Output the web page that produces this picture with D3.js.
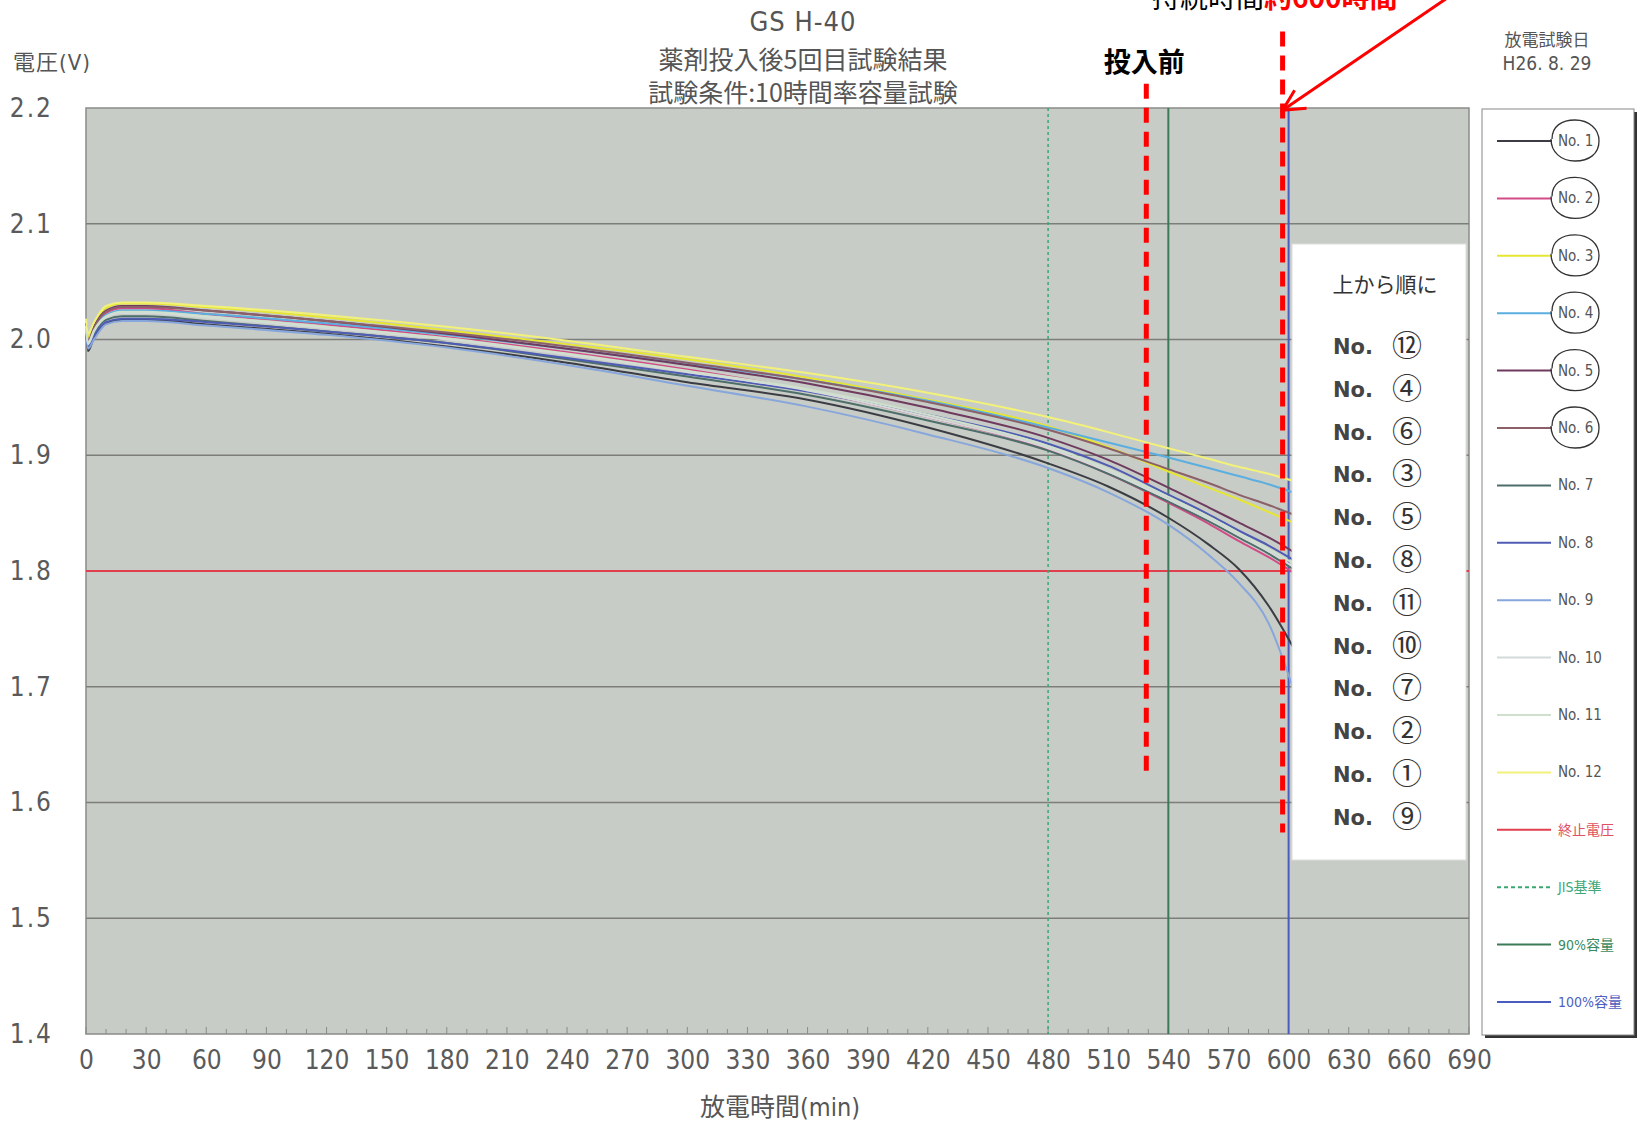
<!DOCTYPE html>
<html><head><meta charset="utf-8">
<script src="https://cdn.jsdelivr.net/npm/d3@7"></script>
<style>
body{margin:0;background:#fff;}
svg{display:block;}
text{font-family:"Liberation Sans Narrow","DejaVu Sans Condensed","Noto Sans CJK JP",sans-serif;}
.cjk{font-family:"Noto Sans CJK JP",sans-serif;}
</style></head><body>
<svg id="chart" width="1642" height="1121"></svg>
<script>
// ---------- data ----------
const times = [0,1,4,10,18,30,60,120,180,240,300,360,420,480,510,540,560,575,590,602];
const no1  = [2.010,1.990,2.002,2.014,2.017,2.017,2.013,2.005,1.994,1.980,1.963,1.948,1.924,1.893,1.873,1.846,1.823,1.802,1.770,1.735];
const no2  = [2.013,1.997,2.009,2.023,2.027,2.027,2.022,2.013,2.002,1.989,1.974,1.956,1.933,1.905,1.884,1.859,1.841,1.826,1.812,1.799];
const no3  = [2.016,2.002,2.013,2.027,2.031,2.031,2.028,2.019,2.008,1.996,1.983,1.967,1.948,1.925,1.907,1.886,1.872,1.862,1.851,1.842];
const no4  = [2.012,1.996,2.008,2.021,2.025,2.025,2.022,2.014,2.004,1.992,1.979,1.965,1.947,1.924,1.911,1.898,1.889,1.882,1.875,1.868];
const no5  = [2.014,1.998,2.011,2.025,2.029,2.029,2.025,2.016,2.005,1.992,1.978,1.962,1.941,1.915,1.896,1.872,1.855,1.842,1.829,1.817];
const no6  = [2.014,1.998,2.010,2.024,2.028,2.028,2.025,2.016,2.006,1.994,1.980,1.965,1.946,1.922,1.906,1.888,1.876,1.866,1.857,1.849];
const no7  = [2.010,1.994,2.005,2.017,2.020,2.020,2.016,2.007,1.997,1.983,1.968,1.952,1.930,1.904,1.884,1.860,1.843,1.829,1.815,1.802];
const no8  = [2.008,1.993,2.003,2.015,2.018,2.018,2.015,2.007,1.997,1.984,1.970,1.955,1.935,1.910,1.891,1.866,1.849,1.835,1.822,1.810];
const no9  = [2.008,1.992,2.000,2.013,2.016,2.016,2.012,2.004,1.993,1.978,1.960,1.942,1.918,1.889,1.868,1.840,1.814,1.790,1.755,1.700];
const no10 = [2.011,1.996,2.007,2.019,2.023,2.023,2.019,2.010,2.000,1.987,1.972,1.956,1.933,1.906,1.886,1.862,1.845,1.831,1.817,1.804];
const no11 = [2.012,1.997,2.008,2.020,2.024,2.024,2.020,2.011,2.001,1.988,1.973,1.957,1.935,1.908,1.888,1.864,1.847,1.833,1.819,1.807];
const no12 = [2.018,2.005,2.015,2.029,2.032,2.032,2.029,2.021,2.011,1.999,1.985,1.971,1.954,1.933,1.920,1.906,1.897,1.890,1.884,1.878];

const seriesNames  = ["No. 1","No. 2","No. 3","No. 4","No. 5","No. 6","No. 7","No. 8","No. 9","No. 10","No. 11","No. 12"];
const seriesValues = [no1,no2,no3,no4,no5,no6,no7,no8,no9,no10,no11,no12];
const seriesColors = ["#3c3c44","#d24a86","#e6e632","#5aaee0","#6e3a5e","#8c6068","#4e6e6a","#4f5cb4","#86a6dc","#d4dada","#cfe0cc","#f2f27a"];

const refNames  = ["終止電圧","JIS基準","90%容量","100%容量"];
const refColors = ["#e0404e","#38a870","#3d7a58","#4a5cc0"];
const refTextColors = ["#e05060","#40a878","#3a8a60","#5060c0"];
const cutoffVoltage = 1.8;
const jisTime = 480, cap90Time = 540, cap100Time = 600;

const xTicks = [0,30,60,90,120,150,180,210,240,270,300,330,360,390,420,450,480,510,540,570,600,630,660,690];
const yTicks = [1.4,1.5,1.6,1.7,1.8,1.9,2.0,2.1,2.2];

const titleLines = ["GS H-40","薬剤投入後5回目試験結果","試験条件:10時間率容量試験"];
const orderLabel = "上から順に";
const orderList = ["⑫","④","⑥","③","⑤","⑧","⑪","⑩","⑦","②","①","⑨"];
const beforeLabel = "投入前", beforeTime = 529;
const afterTime = 597;

// ---------- layout ----------
const svg = d3.select("#chart");
const L = 86, R = 1469, T = 108, B = 1034;
const x = d3.scaleLinear().domain([0,690]).range([L,R]);
const y = d3.scaleLinear().domain([1.4,2.2]).range([B,T]);

// plot background
svg.append("rect").attr("x",L).attr("y",T).attr("width",R-L).attr("height",B-T)
  .attr("fill","#c8ccc6").attr("stroke","#8a8c88").attr("stroke-width",1.5);

// horizontal grid
svg.append("g").selectAll("line").data(yTicks.slice(1,-1)).join("line")
  .attr("x1",L).attr("x2",R).attr("y1",d=>y(d)).attr("y2",d=>y(d))
  .attr("stroke","#7c7e7a").attr("stroke-width",1.6);

// minor ticks at bottom
const minor = d3.range(0,691,10);
svg.append("g").selectAll("line").data(minor).join("line")
  .attr("x1",d=>x(d)).attr("x2",d=>x(d)).attr("y1",B).attr("y2",d=> d%30===0? B-7 : B-5)
  .attr("stroke","#8a8c88").attr("stroke-width",1);

// cutoff voltage line
svg.append("line").attr("x1",L).attr("x2",R).attr("y1",y(cutoffVoltage)).attr("y2",y(cutoffVoltage))
  .attr("stroke",refColors[0]).attr("stroke-width",2);

// vertical reference lines
svg.append("line").attr("x1",x(jisTime)).attr("x2",x(jisTime)).attr("y1",T).attr("y2",B)
  .attr("stroke",refColors[1]).attr("stroke-width",1.5).attr("stroke-dasharray","3,3");
svg.append("line").attr("x1",x(cap90Time)).attr("x2",x(cap90Time)).attr("y1",T).attr("y2",B)
  .attr("stroke",refColors[2]).attr("stroke-width",2);
svg.append("line").attr("x1",x(cap100Time)).attr("x2",x(cap100Time)).attr("y1",T).attr("y2",B)
  .attr("stroke",refColors[3]).attr("stroke-width",2);

// series
const line = d3.line().x((d,i)=>x(times[i])).y(d=>y(d)).curve(d3.curveMonotoneX);
svg.append("g").selectAll("path").data(seriesValues).join("path")
  .attr("d",d=>line(d)).attr("fill","none")
  .attr("stroke",(d,i)=>seriesColors[i]).attr("stroke-width",2);

// axes
const xAxis = svg.append("g").attr("transform",`translate(0,${B})`)
  .call(d3.axisBottom(x).tickValues(xTicks).tickSize(0).tickPadding(17));
xAxis.select(".domain").remove();
xAxis.selectAll("text").attr("font-size",26).attr("fill","#5a5a5a")
  .style("font-family",'"Liberation Sans Narrow","DejaVu Sans Condensed",sans-serif');

const yAxis = svg.append("g").attr("transform",`translate(${L},0)`)
  .call(d3.axisLeft(y).tickValues(yTicks).tickSize(0).tickPadding(33).tickFormat(d3.format(".1f")));
yAxis.select(".domain").remove();
yAxis.selectAll("text").attr("font-size",26).attr("fill","#5a5a5a").attr("letter-spacing",2)
  .style("font-family",'"Liberation Sans Narrow","DejaVu Sans Condensed",sans-serif');

// axis titles
svg.append("text").attr("x",13).attr("y",70).attr("font-size",22).attr("letter-spacing",1).attr("fill","#555").text("電圧(V)");
svg.append("text").attr("x",780).attr("y",1116).attr("text-anchor","middle").attr("font-size",25).attr("fill","#555").text("放電時間(min)");

// titles
svg.append("text").attr("x",803).attr("y",31).attr("text-anchor","middle").attr("font-size",27).attr("fill","#555").attr("letter-spacing",1).text(titleLines[0]);
svg.append("text").attr("x",803).attr("y",69).attr("text-anchor","middle").attr("font-size",25).attr("fill","#555").attr("class","cjk").text(titleLines[1]);
svg.append("text").attr("x",803).attr("y",102).attr("text-anchor","middle").attr("font-size",25).attr("fill","#555").attr("class","cjk").text(titleLines[2]);

// date
svg.append("text").attr("x",1547).attr("y",46).attr("text-anchor","middle").attr("font-size",17).attr("fill","#555").attr("class","cjk").text("放電試験日");
svg.append("text").attr("x",1547).attr("y",70).attr("text-anchor","middle").attr("font-size",19).attr("fill","#555").text("H26. 8. 29");

// legend box
const lgX = 1482, lgY = 109, lgW = 152, lgH = 926;
svg.append("rect").attr("x",lgX+3).attr("y",lgY+3).attr("width",lgW).attr("height",lgH).attr("fill","#333");
svg.append("rect").attr("x",lgX).attr("y",lgY).attr("width",lgW).attr("height",lgH).attr("fill","#fff").attr("stroke","#888").attr("stroke-width",1);
const legendNames = seriesNames.concat(refNames);
const legendColors = seriesColors.concat(refColors);
const legendTextColors = seriesNames.map(()=> "#555").concat(refTextColors);
const lgStep = 57.4, lg0 = 141;
const lg = svg.append("g").selectAll("g").data(legendNames).join("g")
  .attr("transform",(d,i)=>`translate(0,${lg0+i*lgStep})`);
lg.append("line").attr("x1",1497).attr("x2",(d,i)=> i<6 ? 1552 : 1551).attr("y1",0).attr("y2",0)
  .attr("stroke",(d,i)=>legendColors[i]).attr("stroke-width",2)
  .attr("stroke-dasharray",(d,i)=> legendNames[i]==="JIS基準" ? "4,3" : null);
lg.append("text").attr("x",1558).attr("y",5).attr("font-size",(d,i)=> i<12?15:14)
  .attr("fill",(d,i)=>legendTextColors[i]).text(d=>d);
// hand-drawn circles around No.1-6
lg.filter((d,i)=>i<6).append("path")
  .attr("d","M1552,-2 C1552,-15 1562,-21 1575,-21 C1589,-21 1599,-12 1599,0 C1599,13 1589,20 1575,20 C1561,20 1551,11 1551,-2")
  .attr("fill","none").attr("stroke","#333").attr("stroke-width",1.3);

// order box
svg.append("rect").attr("x",1292).attr("y",244).attr("width",174).attr("height",616).attr("fill","#fff").attr("stroke","#ddd");
svg.append("text").attr("x",1385).attr("y",292).attr("text-anchor","middle").attr("font-size",21).attr("fill","#333").attr("class","cjk").text(orderLabel);
const ol = svg.append("g").selectAll("g").data(orderList).join("g")
  .attr("transform",(d,i)=>`translate(0,${346+i*42.8})`);
ol.append("text").attr("x",1333).attr("y",8).attr("font-size",21).attr("font-weight","bold").attr("fill","#444")
  .style("font-family",'"DejaVu Sans","Noto Sans",sans-serif').text("No.");
ol.append("text").attr("x",1407).attr("y",10).attr("text-anchor","middle").attr("font-size",30).attr("fill","#333").attr("class","cjk").text(d=>d);

// red dashed annotation lines
svg.append("line").attr("x1",x(beforeTime)).attr("x2",x(beforeTime)).attr("y1",y(2.221)).attr("y2",y(1.626))
  .attr("stroke","#ff0000").attr("stroke-width",5).attr("stroke-dasharray","15,9");
svg.append("line").attr("x1",x(afterTime)).attr("x2",x(afterTime)).attr("y1",y(2.266)).attr("y2",y(1.574))
  .attr("stroke","#ff0000").attr("stroke-width",5).attr("stroke-dasharray","15,9");
svg.append("text").attr("x",x(beforeTime)-2).attr("y",72).attr("text-anchor","middle").attr("font-size",27).attr("font-weight","bold").attr("fill","#000").attr("class","cjk").text(beforeLabel);

// arrow
const tipX = x(afterTime), tipY = y(2.198);
svg.append("line").attr("x1",x(685)).attr("y1",y(2.302)).attr("x2",tipX).attr("y2",tipY).attr("stroke","#ff0000").attr("stroke-width",3);
svg.append("path").attr("d",`M${tipX+12},${tipY-20} L${tipX},${tipY} L${tipX+24},${tipY-2}`)
  .attr("fill","none").attr("stroke","#ff0000").attr("stroke-width",3);

// top cut-off text (cut by the top edge, as in the reference)
const topText = svg.append("text").attr("x",1152).attr("y",8).attr("font-size",28).attr("font-weight","bold").attr("class","cjk");
topText.append("tspan").attr("fill","#000").attr("font-weight","normal").text("持続時間");
topText.append("tspan").attr("fill","#ff0000").text("約600時間");
</script>
</body></html>
